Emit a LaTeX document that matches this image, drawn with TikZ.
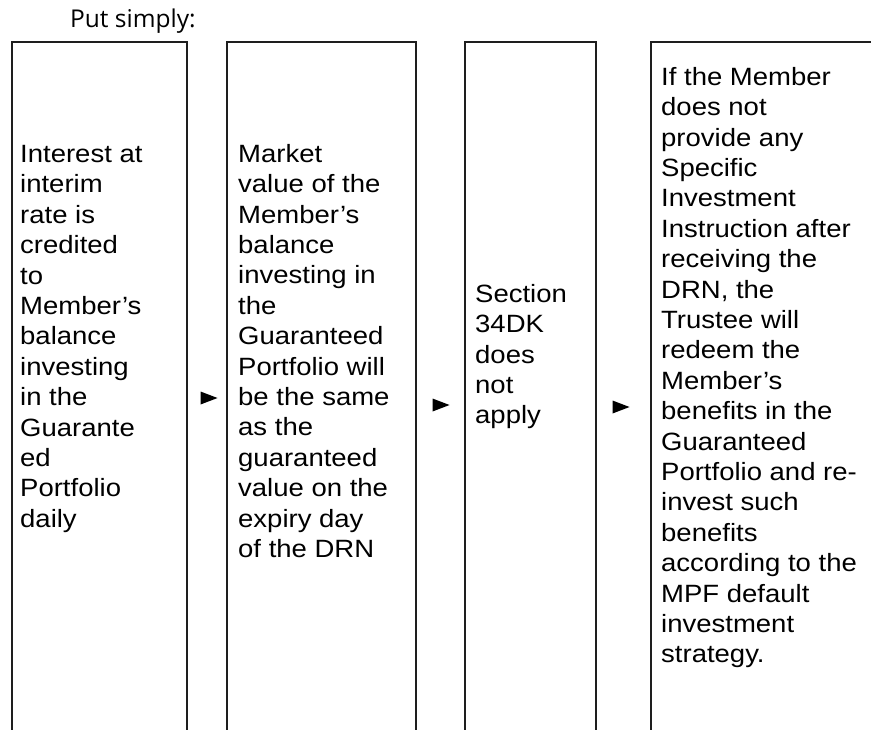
\documentclass[tikz,border=0pt]{standalone}
\usepackage{fontspec}
\setmainfont[FakeStretch=1.1]{Liberation Sans}
\newfontfamily\headfont{Open Sans}
\usepackage{tikz}
\usetikzlibrary{positioning,shapes.geometric}
\definecolor{boxline}{RGB}{30, 30, 30}

\begin{document}
\begin{tikzpicture}[
        x=1pt, y=-1pt,
        panel/.style={draw=boxline, line width=2pt, rectangle, anchor=north west, outer sep=0pt, inner sep=0pt, minimum height=760pt},
        txt/.style={anchor=north west, inner sep=0pt, align=left, font=\fontsize{25}{30.4}\selectfont},
        tri/.style={isosceles triangle, isosceles triangle stretches, shape border rotate=0, fill=black, inner sep=0pt, minimum width=13pt, minimum height=17pt}
    ]
        \useasboundingbox (0,0) rectangle (871,729);
        \clip (0,0) rectangle (871,729);

        % Heading
        \node[anchor=base west, inner sep=0pt, font=\headfont\fontsize{24.5}{28}\selectfont] (head) at (70,27) {Put simply:};

        % Boxes
        \node[panel, minimum width=175pt] (bInterest) at (12,42) {};
        \node[panel, minimum width=189pt] (bMarket) at (227,42) {};
        \node[panel, minimum width=131pt] (bSection) at (465,42) {};
        \node[panel, minimum width=260pt] (bRedeem) at (651,42) {};

        % Box texts
        \node[txt] (tInterest) at (20,145) {Interest at\\interim\\rate is\\credited\\to\\Member’s\\balance\\investing\\in the\\Guarante\\ed\\Portfolio\\daily};
        \node[txt] (tMarket) at (238,144) {Market\\value of the\\Member’s\\balance\\investing in\\the\\Guaranteed\\Portfolio will\\be the same\\as the\\guaranteed\\value on the\\expiry day\\of the DRN};
        \node[txt] (tSection) at (475,284) {Section\\34DK\\does\\not\\apply};
        \node[txt] (tRedeem) at (661,67) {If the Member\\does not\\provide any\\Specific\\Investment\\Instruction after\\receiving the\\DRN, the\\Trustee will\\redeem the\\Member’s\\benefits in the\\Guaranteed\\Portfolio and re-\\invest such\\benefits\\according to the\\MPF default\\investment\\strategy.};

        % Arrow marks
        \node[tri] (aOne) at (205,398) {};
        \node[tri] (aTwo) at (437,405) {};
        \node[tri] (aThree) at (617,407) {};
    \end{tikzpicture}
\end{document}
